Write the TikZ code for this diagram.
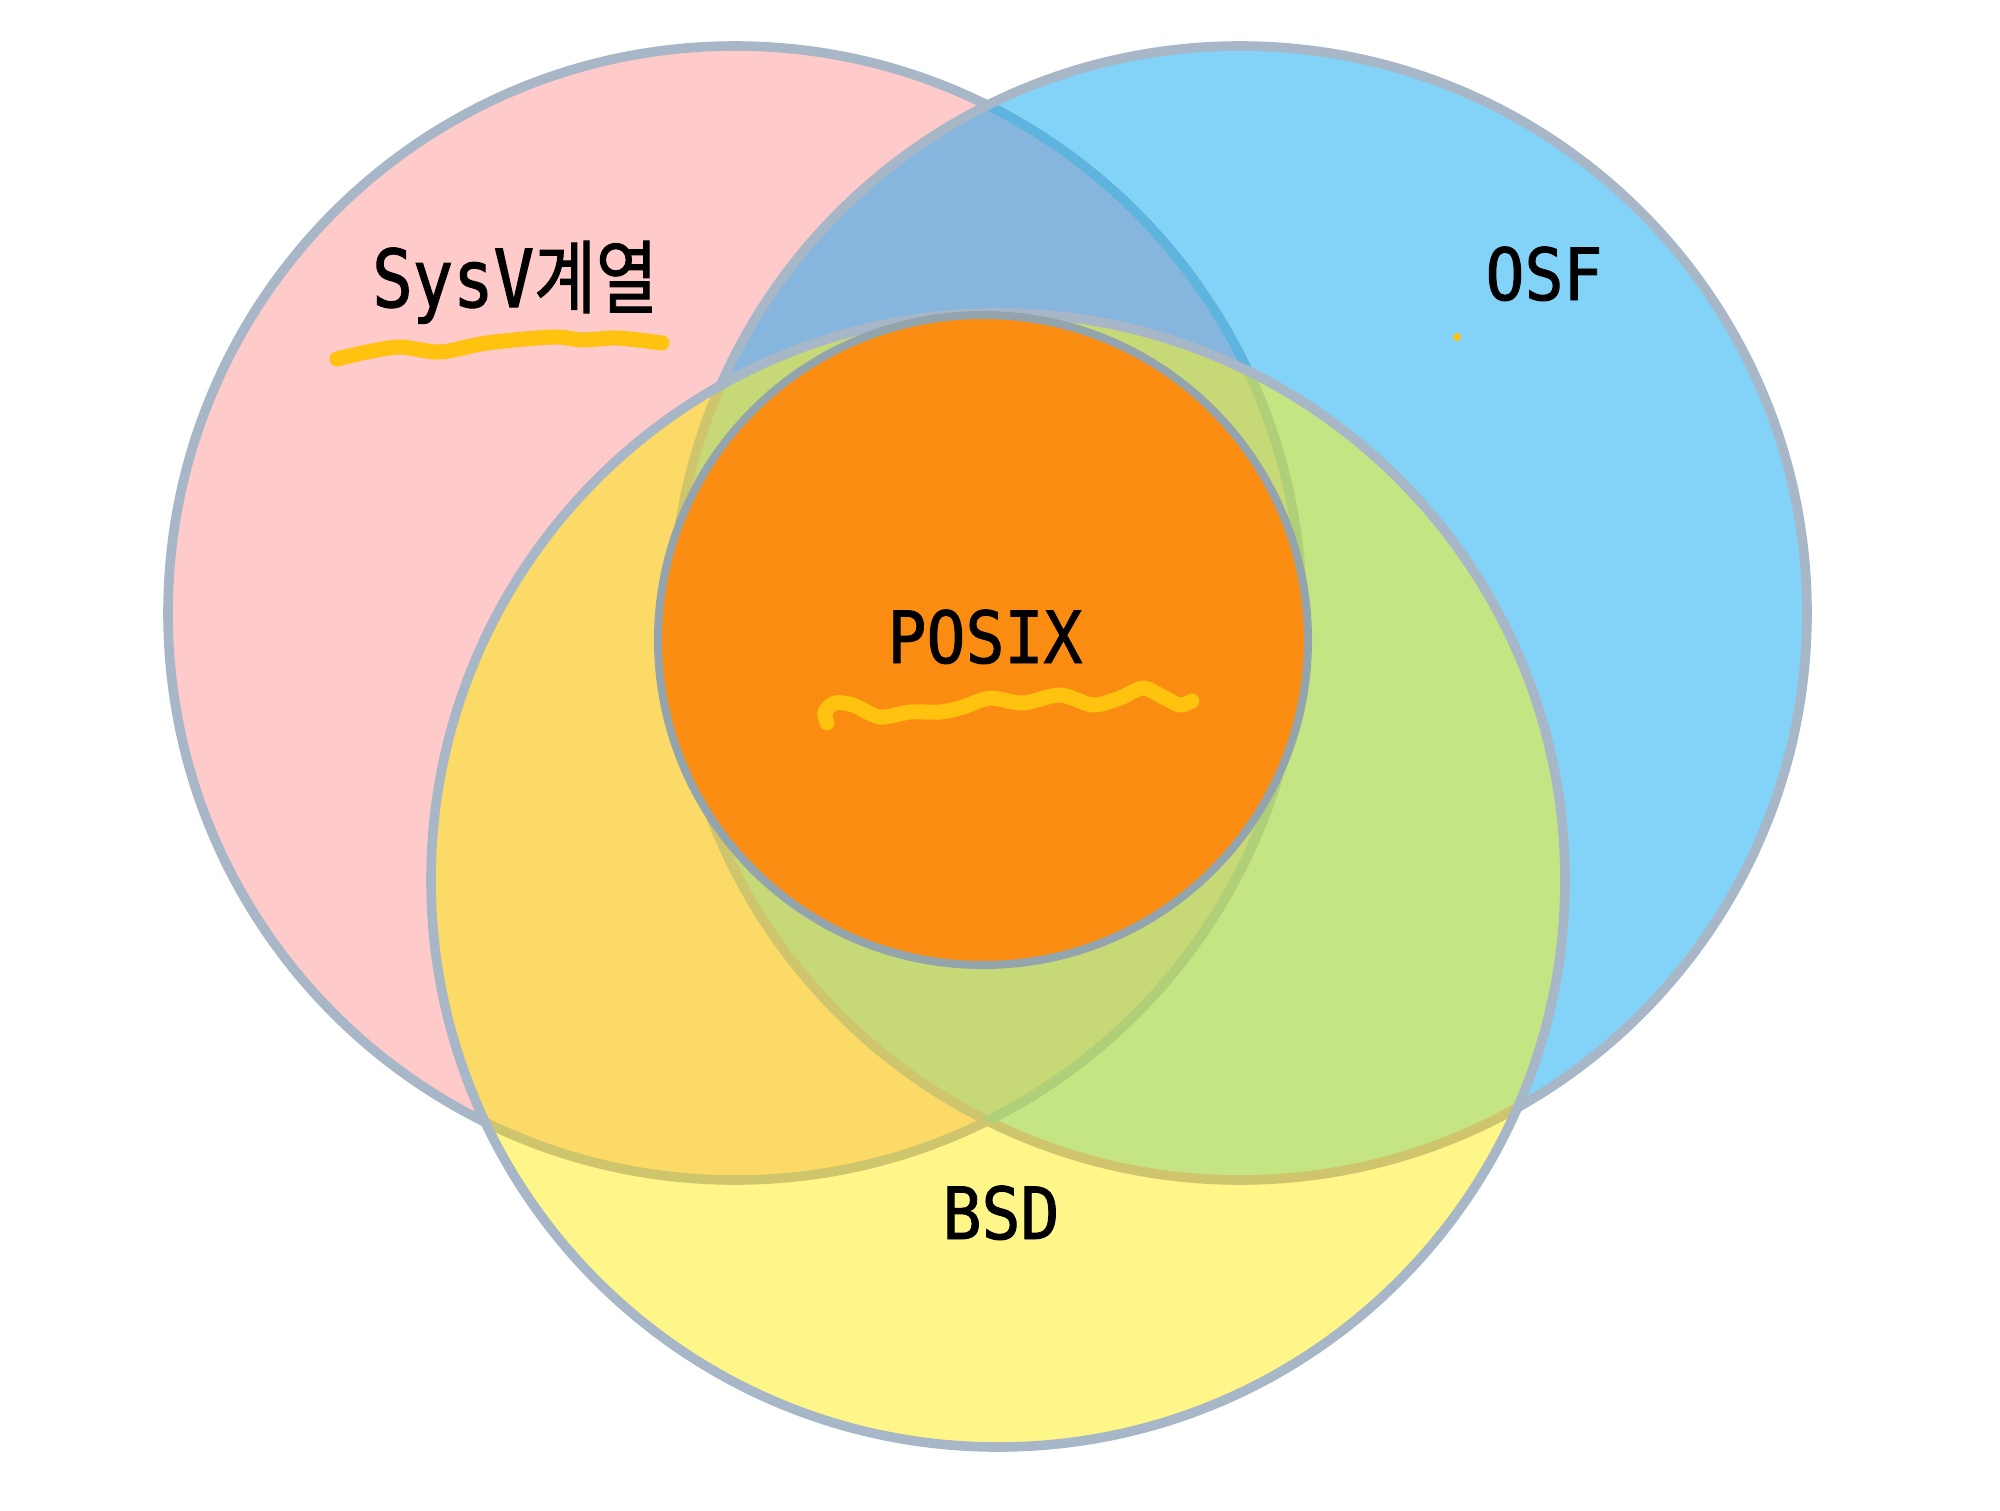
\documentclass[tikz,border=0pt]{standalone}
\usepackage{fontspec}
\usepackage{tikz}

\newfontfamily\labelfont{DejaVu Sans Mono}[FakeStretch=0.9,FakeBold=1.2]
\newfontfamily\sysvfont{DejaVu Sans Mono}[FakeStretch=0.84,FakeBold=1.4]
\newfontfamily\hangulfont{Noto Sans CJK KR}[FakeStretch=0.84,FakeBold=1.2]

\definecolor{sysvpink}{HTML}{FECACA}
\definecolor{osfblue}{HTML}{82D3F7}
\definecolor{sysvosf}{HTML}{86B6DD}
\definecolor{bsdyellow}{HTML}{FEF689}
\definecolor{sysvbsd}{HTML}{FCDA68}
\definecolor{osfbsd}{HTML}{C5E484}
\definecolor{allthree}{HTML}{C7D877}
\definecolor{posixorange}{HTML}{FA8C12}
\definecolor{ringgrey}{HTML}{A8B7C7}
\definecolor{ringblue}{HTML}{5CB4DF}
\definecolor{ringolive}{HTML}{CFC56C}
\definecolor{ringgreen}{HTML}{AFD078}
\definecolor{posixring}{HTML}{93A4AC}
\definecolor{scribble}{HTML}{FFC20E}

\tikzset{
  ring/.style={draw=ringgrey, line width=4.8pt},
  setlabel/.style={inner sep=0pt, anchor=base, text=black, font=\labelfont\fontsize{36}{40}\selectfont},
  underscribble/.style={draw=scribble, line width=7.5pt, line cap=round, line join=round}
}

\begin{document}
\begin{tikzpicture}[x=0.5pt,y=0.5pt,yscale=-1]
  \useasboundingbox (0,0) rectangle (2000,1510);
  \def\bigr{567}
  \def\posixr{325}
  % set centres
  \coordinate (sysv) at (735,613);
  \coordinate (osf) at (1240,613);
  \coordinate (bsd) at (998,880);
  \coordinate (posix) at (983,640);

  % SysV and OSF
  \fill[sysvpink] (sysv) circle (\bigr);
  \fill[osfblue] (osf) circle (\bigr);
  \begin{scope}
    \clip (sysv) circle (\bigr);
    \fill[sysvosf] (osf) circle (\bigr);
  \end{scope}
  \draw[ring] (sysv) circle (\bigr);
  \begin{scope}
    \clip (osf) circle (\bigr);
    \draw[ring, draw=ringblue] (sysv) circle (\bigr);
  \end{scope}
  \draw[ring] (osf) circle (\bigr);

  % BSD
  \begin{scope}
    \clip (bsd) circle (\bigr);
    \fill[bsdyellow] (bsd) circle (\bigr);
    \fill[sysvbsd] (sysv) circle (\bigr);
    \fill[osfbsd] (osf) circle (\bigr);
    \begin{scope}
      \clip (sysv) circle (\bigr);
      \fill[allthree] (osf) circle (\bigr);
    \end{scope}
    \draw[ring, draw=ringolive] (sysv) circle (\bigr);
    \draw[ring, draw=ringolive] (osf) circle (\bigr);
    \clip (osf) circle (\bigr);
    \draw[ring, draw=ringgreen] (sysv) circle (\bigr);
  \end{scope}
  \draw[ring] (bsd) circle (\bigr);

  % POSIX
  \fill[posixorange, draw=posixring, line width=4pt] (posix) circle (\posixr);

  % labels
  \node[setlabel, font=\sysvfont\fontsize{40}{44}\selectfont] (sysvlabel) at (515,307) {SysV{\hangulfont 계열}};
  \node[setlabel] (osflabel) at (1544,300) {OSF};
  \node[setlabel] (posixlabel) at (985,663) {POSIX};
  \node[setlabel] (bsdlabel) at (1001,1239) {BSD};

  % hand-drawn marks
  \draw[underscribble] plot[smooth] coordinates {(337,359) (367,352) (400,347) (440,352) (487,343) (553,337) (583,340) (617,338) (662,343)};
  \draw[underscribble] plot[smooth] coordinates {(827,723) (825,712) (835,703) (853,705) (880,717) (910,712) (940,712) (963,707) (990,698) (1023,703) (1060,695) (1093,705) (1120,698) (1143,688) (1163,697) (1180,705) (1192,701)};
  \fill[scribble] (1457,337) circle (4);
\end{tikzpicture}
\end{document}
